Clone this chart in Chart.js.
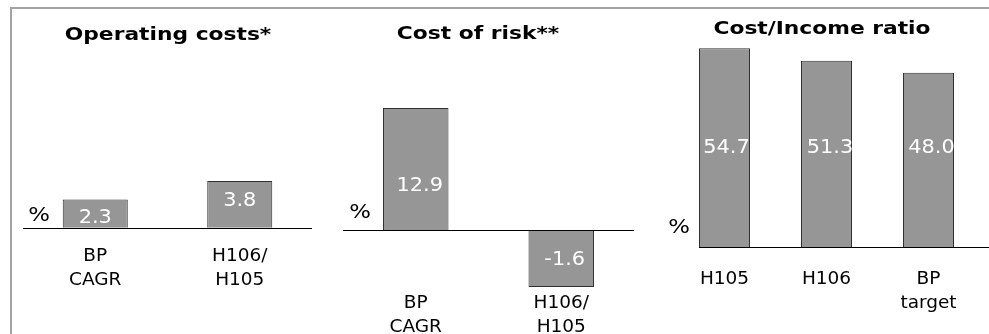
<!DOCTYPE html>
<html>
<head>
<meta charset="utf-8">
<script src="https://cdn.jsdelivr.net/npm/chart.js@4.4.0/dist/chart.umd.min.js"></script>
<style>
html,body{margin:0;padding:0;background:#fff;}
#stage{position:relative;width:989px;height:334px;overflow:hidden;font-family:"DejaVu Sans",Verdana,sans-serif;color:#000;}
.frame{position:absolute;left:10px;top:7px;width:1000px;height:360px;border-top:2px solid #a3a3a3;border-left:2px solid #a3a3a3;}
.panel{position:absolute;top:0;height:334px;}
.title{position:absolute;font-weight:bold;font-size:18px;white-space:nowrap;transform:translate(-50%,-50%) scaleX(1.21);}
.unit{position:absolute;font-size:19px;white-space:nowrap;transform:translate(-50%,-50%) scaleX(1.2);}
canvas{position:absolute;left:0;top:0;}
</style>
</head>
<body>
<div id="stage">
  <div class="frame"></div>
  <div class="panel" style="left:0;width:330px;"><canvas id="c1" width="330" height="334"></canvas></div>
  <div class="panel" style="left:330px;width:330px;"><canvas id="c2" width="330" height="334"></canvas></div>
  <div class="panel" style="left:660px;width:329px;"><canvas id="c3" width="329" height="334"></canvas></div>
  <div class="title" id="t1" style="left:168px;top:33px;"></div>
  <div class="title" id="t2" style="left:478px;top:32px;"></div>
  <div class="title" id="t3" style="left:822px;top:27px;"></div>
  <div class="unit" id="u1" style="left:39px;top:214px;"></div>
  <div class="unit" id="u2" style="left:360px;top:211px;"></div>
  <div class="unit" id="u3" style="left:679px;top:226px;"></div>
</div>
<script>
// ---- data ----
const panelTitles = ['Operating costs*', 'Cost of risk**', 'Cost/Income ratio'];
const unitLabel = '%';

const opCostCategories = [['BP', 'CAGR'], ['H106/', 'H105']];
const opCostValues = [2.3, 3.8];

const riskCategories = [['BP', 'CAGR'], ['H106/', 'H105']];
const riskValues = [12.9, -1.6];

const ratioCategories = ['H105', 'H106', ['BP', 'target']];
const ratioValues = [54.7, 51.3, 48.0];

// ---- text ----
document.getElementById('t1').textContent = panelTitles[0];
document.getElementById('t2').textContent = panelTitles[1];
document.getElementById('t3').textContent = panelTitles[2];
['u1','u2','u3'].forEach(id => document.getElementById(id).textContent = unitLabel);

// ---- styles ----
const FONT = '"DejaVu Sans", Verdana, sans-serif';
const BAR_FILL = '#969696';
const BAR_EDGE = '#303030';

const valueLabels = {
  id: 'valueLabels',
  afterDatasetsDraw(chart, args, opts) {
    const ctx = chart.ctx;
    chart.data.datasets.forEach((ds, di) => {
      const meta = chart.getDatasetMeta(di);
      meta.data.forEach((bar, i) => {
        const v = ds.data[i];
        if (v === null || v === undefined) return;
        const cx = bar.x + ((opts.dx && opts.dx[i]) || 0);
        const cy = (bar.y + bar.base) / 2 + ((opts.dy && opts.dy[i]) || 0);
        ctx.save();
        ctx.translate(cx, cy);
        ctx.scale(1.1, 1);
        ctx.font = '19px ' + FONT;
        ctx.fillStyle = '#ffffff';
        ctx.textAlign = 'center';
        ctx.textBaseline = 'middle';
        ctx.fillText(v.toFixed(1), 0, 0);
        ctx.restore();
      });
    });
  }
};

const zeroLine = {
  id: 'zeroLine',
  afterDatasetsDraw(chart, args, opts) {
    const scale = chart.scales[opts.axis || 'y'];
    const y = Math.round(scale.getPixelForValue(0)) + 0.5;
    const a = chart.chartArea;
    const ctx = chart.ctx;
    ctx.save();
    ctx.strokeStyle = '#000';
    ctx.lineWidth = 1;
    ctx.beginPath();
    ctx.moveTo(a.left + (opts.insetLeft || 0), y);
    ctx.lineTo(a.right + (opts.extendRight || 0), y);
    ctx.stroke();
    ctx.restore();
  }
};

function xAxis(height, pad) {
  return {
    type: 'category',
    grid: { display: false, drawTicks: false },
    border: { display: false },
    ticks: { color: '#000', font: { family: FONT, size: 18.5, lineHeight: 1.32 }, padding: pad, maxRotation: 0, autoSkip: false },
    afterFit: s => { s.height = height; }
  };
}

function barStyle(extra) {
  return Object.assign({
    backgroundColor: BAR_FILL,
    borderColor: BAR_EDGE,
    borderWidth: 1,
    barPercentage: 0.45,
    categoryPercentage: 1,
    grouped: false
  }, extra);
}

const common = {
  responsive: false,
  animation: false,
  events: [],
  plugins: { legend: { display: false }, tooltip: { enabled: false } }
};

// Panel 1: Operating costs
new Chart(document.getElementById('c1'), {
  type: 'bar',
  data: { labels: opCostCategories, datasets: [barStyle({ data: opCostValues })] },
  options: Object.assign({}, common, {
    layout: { padding: { left: 23, right: 18, top: 68, bottom: 0 } },
    scales: { x: xAxis(94, 4), y: { display: false, min: -1, max: 13 } },
    plugins: Object.assign({}, common.plugins, {
      valueLabels: { dx: [0, 0], dy: [4, -3] },
      zeroLine: { axis: 'y' }
    })
  }),
  plugins: [valueLabels, zeroLine]
});

// Panel 2: Cost of risk (positive and negative bars drawn on their own axes, zero aligned)
new Chart(document.getElementById('c2'), {
  type: 'bar',
  data: {
    labels: riskCategories,
    datasets: [
      barStyle({ data: riskValues.map(v => v >= 0 ? v : null), yAxisID: 'yPos' }),
      barStyle({ data: riskValues.map(v => v < 0 ? v : null), yAxisID: 'yNeg' })
    ]
  },
  options: Object.assign({}, common, {
    layout: { padding: { left: 13, right: 26, top: 66, bottom: 0 } },
    scales: {
      x: xAxis(46, 3),
      yPos: { display: false, min: -6.133, max: 17.342 },
      yNeg: { display: false, min: -1.628, max: 4.604 }
    },
    plugins: Object.assign({}, common.plugins, {
      valueLabels: { dx: [4, 3.5], dy: [17.5, 2] },
      zeroLine: { axis: 'yPos' }
    })
  }),
  plugins: [valueLabels, zeroLine]
});

// Panel 3: Cost/Income ratio
new Chart(document.getElementById('c3'), {
  type: 'bar',
  data: { labels: ratioCategories, datasets: [barStyle({ data: ratioValues, barPercentage: 0.5 })] },
  options: Object.assign({}, common, {
    layout: { padding: { left: 13.5, right: 9.5, top: 40, bottom: 0 } },
    scales: { x: xAxis(76, 9), y: { display: false, min: -3, max: 57 } },
    plugins: Object.assign({}, common.plugins, {
      valueLabels: { dx: [2, 3.5, 3], dy: [0, -6, -12] },
      zeroLine: { axis: 'y', insetLeft: 25.5, extendRight: 9.5 }
    })
  }),
  plugins: [valueLabels, zeroLine]
});
</script>
</body>
</html>
